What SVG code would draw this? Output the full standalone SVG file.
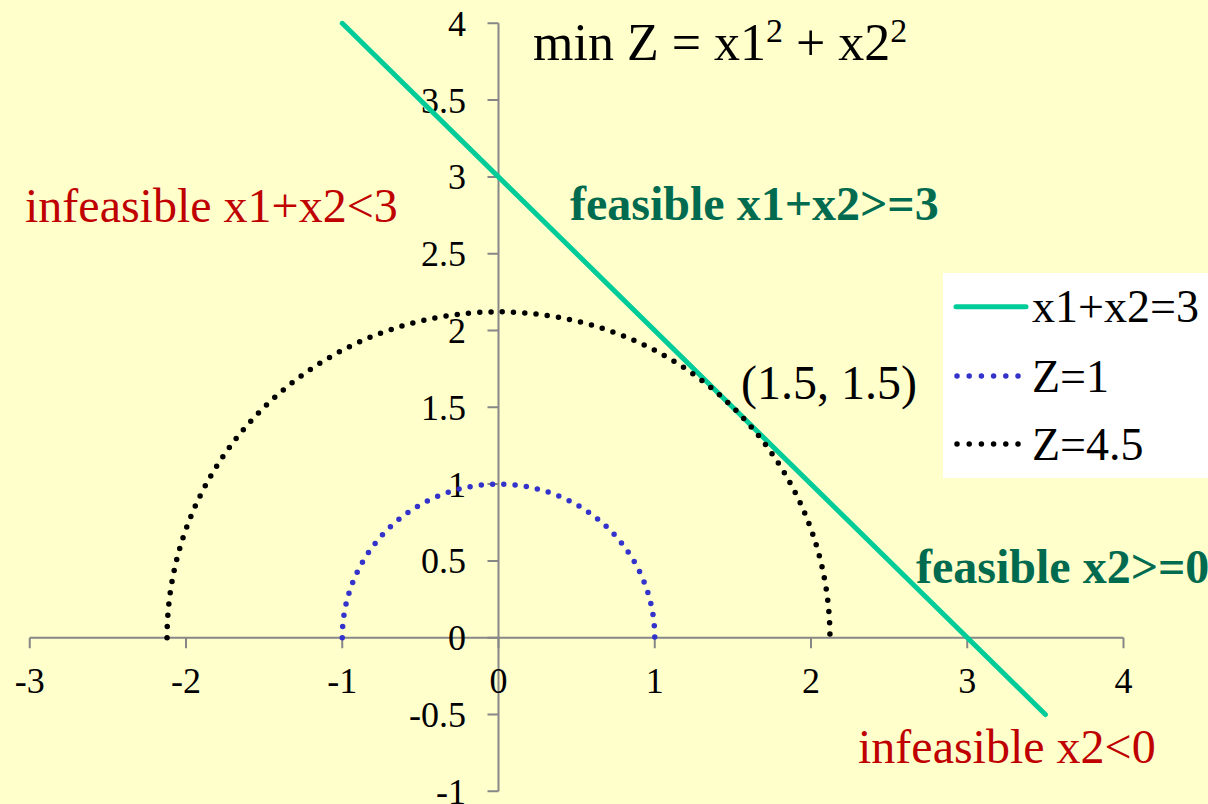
<svg xmlns="http://www.w3.org/2000/svg" width="1208" height="804" viewBox="0 0 1208 804">
  <style>
    .axis { stroke: #878787; stroke-width: 2; fill: none; }
    .tick { font-family: "Liberation Serif", "Times New Roman", serif; font-size: 36px; fill: #000; }
    .big { font-family: "Liberation Serif", "Times New Roman", serif; font-size: 48px; }
    .ttl { font-family: "Liberation Serif", "Times New Roman", serif; font-size: 52px; fill: #000; }
    .sup { font-size: 34px; }
    .red { fill: #c00000; }
    .green { fill: #006b4f; font-weight: bold; }
    .leg { font-family: "Liberation Serif", "Times New Roman", serif; font-size: 46px; fill: #000; }
    .dotb { stroke: #3333cc; stroke-width: 5.5; stroke-linecap: round; stroke-dasharray: 0 11.3; fill: none; }
    .dotk { stroke: #000; stroke-width: 5.5; stroke-linecap: round; stroke-dasharray: 0 11.3; fill: none; }
    .cline { stroke: #00cc99; stroke-width: 5; stroke-linecap: round; fill: none; }
  </style>
  <rect x="0" y="0" width="1208" height="804" fill="#ffffcc"/>

  <g id="axes">
    <path class="axis" d="M29.75 637.7 H1123.5 M29.75 637.7 v10.5 M186 637.7 v10.5 M342.25 637.7 v10.5 M498.5 637.7 v10.5 M654.75 637.7 v10.5 M811 637.7 v10.5 M967.25 637.7 v10.5 M1123.5 637.7 v10.5"/>
    <path class="axis" d="M498.5 23.3 V791.3 M487.5 23.3 h11 M487.5 100.1 h11 M487.5 176.9 h11 M487.5 253.7 h11 M487.5 330.5 h11 M487.5 407.3 h11 M487.5 484.1 h11 M487.5 560.9 h11 M487.5 637.7 h11 M487.5 714.5 h11 M487.5 791.3 h11"/>
    <g class="tick" text-anchor="middle">
      <text x="29.75" y="693">-3</text>
      <text x="186" y="693">-2</text>
      <text x="342.25" y="693">-1</text>
      <text x="498.5" y="693">0</text>
      <text x="654.75" y="693">1</text>
      <text x="811" y="693">2</text>
      <text x="967.25" y="693">3</text>
      <text x="1123.5" y="693">4</text>
    </g>
    <g class="tick" text-anchor="end">
      <text x="466" y="35.8">4</text>
      <text x="466" y="112.6">3.5</text>
      <text x="466" y="189.4">3</text>
      <text x="466" y="266.2">2.5</text>
      <text x="466" y="343">2</text>
      <text x="466" y="419.8">1.5</text>
      <text x="466" y="496.6">1</text>
      <text x="466" y="573.4">0.5</text>
      <text x="466" y="650.2">0</text>
      <text x="466" y="727">-0.5</text>
      <text x="466" y="803.8">-1</text>
    </g>
  </g>

  <g id="connectors">
    <path id="line-x1x2" class="cline" d="M342.25 23.3 L1045.4 714.5"/>
    <path id="curve-z1" class="dotb" d="M342.25 637.7 A156.25 153.6 0 0 1 654.75 637.7"/>
    <path id="curve-z45" class="dotk" d="M167.05 637.7 A331.45 325.85 0 0 1 829.95 637.7"/>
  </g>

  <g id="title">
    <text class="ttl" y="60"><tspan x="533">min Z = x1</tspan><tspan class="sup" dy="-18">2</tspan><tspan dy="18"> + x2</tspan><tspan class="sup" dy="-18">2</tspan></text>
  </g>

  <g id="label-infeasible-1"><text class="big red" x="25" y="222">infeasible x1+x2&lt;3</text></g>
  <g id="label-feasible-1"><text class="big green" x="570" y="220">feasible x1+x2&gt;=3</text></g>
  <g id="label-feasible-2"><text class="big green" x="916" y="583">feasible x2&gt;=0</text></g>
  <g id="label-infeasible-2"><text class="big red" x="858" y="763">infeasible x2&lt;0</text></g>
  <g id="label-point"><text class="big" fill="#000" x="741" y="399" font-size="52">(1.5, 1.5)</text></g>

  <g id="legend">
    <rect x="943" y="273" width="265" height="205" fill="#ffffff"/>
    <path class="cline" d="M956 306.7 H1026"/>
    <path class="dotb" d="M957 376 H1020" style="stroke-dasharray:0 12.2"/>
    <path class="dotk" d="M957 444 H1020" style="stroke-dasharray:0 12.2"/>
    <text class="leg" x="1032" y="322">x1+x2=3</text>
    <text class="leg" x="1032" y="392">Z=1</text>
    <text class="leg" x="1032" y="460">Z=4.5</text>
  </g>
</svg>
